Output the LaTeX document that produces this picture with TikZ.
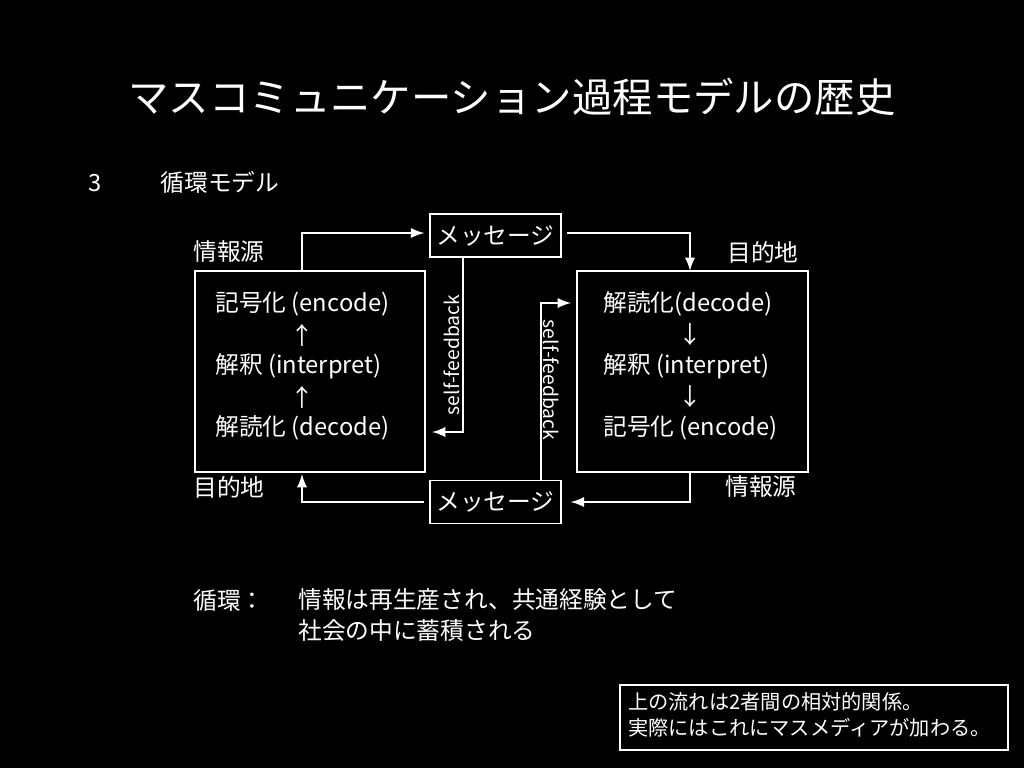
\documentclass[tikz,border=0pt]{standalone}
\usepackage{fontspec}
\setmainfont{Noto Sans CJK JP}
\usetikzlibrary{positioning}
\tikzset{
  txt/.style={text=white, inner sep=0pt, font=\fontsize{13.5}{15}\selectfont},
  frame/.style={draw=white, thick},
  msgbox/.style={frame, txt, minimum width=2.62cm, minimum height=0.86cm},
  flow/.style={draw=white, line width=1.6pt, -latex},
}
\begin{document}
\begin{tikzpicture}[x=0.02cm, y=-0.02cm]
\useasboundingbox[fill=black] (0,0) rectangle (1024,768);
\node[txt, font=\fontsize{23}{26}\selectfont] (title) at (512,97) {マスコミュニケーション過程モデルの歴史};
\node[txt, anchor=west] (sec) at (88,182) {3\hspace{2.5em}循環モデル};

\draw[frame] (195,271) rectangle (425,472);
\draw[frame] (577,271) rectangle (808,472);
\coordinate (lt) at (302,271); \coordinate (lb) at (302,474);
\coordinate (rt) at (690,271); \coordinate (rb) at (690,472);
\node[msgbox] (msg1) at (495.5,235.5) {メッセージ};
\node[msgbox] (msg2) at (495.5,502) {メッセージ};

\node[txt, anchor=west] (src1) at (193,252) {情報源};
\node[txt, anchor=west] (dst1) at (727,252) {目的地};
\node[txt, anchor=west] (dst2) at (193,487) {目的地};
\node[txt, anchor=west] (src2) at (725,487) {情報源};

\node[txt, anchor=west] (l1) at (215,304) {記号化 (encode)};
\node[txt] (l2) at (302,335) {↑};
\node[txt, anchor=west] (l3) at (215,366) {解釈 (interpret)};
\node[txt] (l4) at (302,397) {↑};
\node[txt, anchor=west] (l5) at (215,428) {解読化 (decode)};
\node[txt, anchor=west] (r1) at (603,304) {解読化(decode)};
\node[txt] (r2) at (690,335) {↓};
\node[txt, anchor=west] (r3) at (603,366) {解釈 (interpret)};
\node[txt] (r4) at (690,397) {↓};
\node[txt, anchor=west] (r5) at (603,428) {記号化 (encode)};

\draw[flow] (lt) |- ([xshift=-0.1cm,yshift=0.05cm]msg1.west);
\draw[flow] ([xshift=0.1cm,yshift=0.05cm]msg1.east) -| (rt);
\draw[flow] (rb) |- ([xshift=0.18cm]msg2.east);
\draw[flow] ([xshift=-0.1cm]msg2.west) -| (lb);
\draw[flow] (msg1.south -| 463,0) |- (432,432);
\draw[flow] (msg2.north -| 541,0) |- (571,303);
\node[txt, rotate=90, font=\fontsize{11}{12}\selectfont] (fb1) at (452,355) {self-feedback};
\node[txt, rotate=-90, font=\fontsize{11}{12}\selectfont] (fb2) at (551,380) {self-feedback};

\node[txt, anchor=west] (cyc) at (193,600) {循環：};
\node[txt, anchor=north west, align=left, font=\fontsize{13.5}{17.5}\selectfont] (cyct) at (298,588) {情報は再生産され、共通経験として\\社会の中に蓄積される};

\draw[frame] (620,685) rectangle (1008,750);
\node[txt, anchor=north west, align=left, font=\fontsize{11.5}{15}\selectfont] (note) at (628,692) {上の流れは2者間の相対的関係。\\実際にはこれにマスメディアが加わる。};
\end{tikzpicture}
\end{document}
